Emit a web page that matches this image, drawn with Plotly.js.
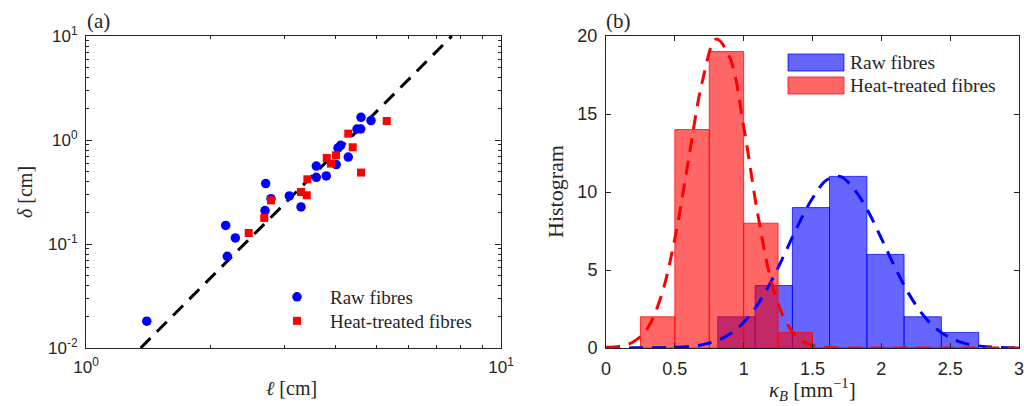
<!DOCTYPE html>
<html>
<head>
<meta charset="utf-8">
<script src="https://cdn.plot.ly/plotly-3.0.1.min.js"></script>
<style>html,body{margin:0;padding:0;background:#fff;}#chart{width:1024px;height:406px;}</style>
</head>
<body>
<div id="chart"></div>
<script>
// ---------- Panel (a) data: fibre length l [cm] vs delta [cm] ----------
const rawL     = [1.401, 2.171, 2.290, 2.190, 2.710, 2.700, 2.791, 3.090, 3.297, 3.589, 3.589, 3.793, 4.009, 4.048, 4.109, 4.285, 4.498, 4.592, 4.599, 4.862];
const rawDelta = [0.0181, 0.151, 0.1143, 0.0762, 0.381, 0.2094, 0.273, 0.2896, 0.227, 0.562, 0.438, 0.451, 0.58, 0.838, 0.889, 0.686, 1.276, 1.276, 1.653, 1.536];
const heatL     = [2.466, 2.689, 2.791, 3.297, 3.403, 3.415, 3.802, 3.894, 4.003, 4.285, 4.392, 4.599, 5.304];
const heatDelta = [0.1276, 0.178, 0.263, 0.316, 0.294, 0.419, 0.671, 0.593, 0.713, 1.152, 0.851, 0.486, 1.524];
const fitL     = [1.354, 7.615];
const fitDelta = [0.01, 10];

// ---------- Panel (b) data: histogram of kappa_B [mm^-1] ----------
const heatBinEdges = [0.25, 0.5, 0.75, 1.0, 1.25, 1.5];
const heatCounts   = [2, 14, 19, 8, 1];
const rawBinEdges  = [0.812, 1.083, 1.354, 1.624, 1.895, 2.165, 2.436, 2.707];
const rawCounts    = [2, 4, 9, 11, 6, 2, 1];
const curveK    = [0, 0.1, 0.2, 0.3, 0.4, 0.5, 0.6, 0.7, 0.8, 0.9, 1.0, 1.1, 1.2, 1.3, 1.4, 1.5, 1.6, 1.7, 1.8, 1.9, 2.0, 2.1, 2.2, 2.3, 2.4, 2.5, 2.6, 2.7, 2.8, 2.9, 3.0];
const heatCurve = [0.05, 0.12, 0.4, 1.25, 3.3, 7.0, 12.1, 17.1, 19.8, 18.6, 14.2, 8.7, 4.3, 1.8, 0.6, 0.17, 0.04, 0.01, 0, 0, 0, 0, 0, 0, 0, 0, 0, 0, 0, 0, 0];
const rawCurve  = [0, 0, 0.01, 0.01, 0.02, 0.04, 0.09, 0.21, 0.45, 0.9, 1.64, 2.76, 4.27, 6.08, 7.96, 9.6, 10.75, 11.0, 10.2, 8.83, 7.03, 5.15, 3.47, 2.15, 1.23, 0.65, 0.31, 0.14, 0.06, 0.02, 0.01];

// ---------- tick labels ----------
const logXTickVals = [1, 10];
const logXTickText = ['10<sup>0</sup>', '10<sup>1</sup>'];
const logYTickVals = [0.01, 0.1, 1, 10];
const logYTickText = ['10<sup>-2</sup>', '10<sup>-1</sup>', '10<sup>0</sup>', '10<sup>1</sup>'];
const minorXVals = [2, 3, 4, 5, 6, 7, 8, 9];
const minorYVals = [0.02,0.03,0.04,0.05,0.06,0.07,0.08,0.09,0.2,0.3,0.4,0.5,0.6,0.7,0.8,0.9,2,3,4,5,6,7,8,9];
const histXTicks = [0, 0.5, 1, 1.5, 2, 2.5, 3];
const histXText  = ['0', '0.5', '1', '1.5', '2', '2.5', '3'];
const histYTicks = [0, 5, 10, 15, 20];

function centres(edges){ const c=[]; for(let i=0;i<edges.length-1;i++) c.push((edges[i]+edges[i+1])/2); return c; }
function widths(edges){ const w=[]; for(let i=0;i<edges.length-1;i++) w.push(edges[i+1]-edges[i]); return w; }

const W = 1024, H = 406;
const px = v => v / W, py = v => 1 - v / H;

const SERIF = 'Liberation Serif, Times New Roman, serif';
const SANS = 'Liberation Sans, Arial, sans-serif';
const AX = '#262626';
const DASH = '14px,9px';

const traces = [
  {x: fitL, y: fitDelta, type: 'scatter', mode: 'lines', xaxis: 'x', yaxis: 'y',
   line: {color: '#000', width: 3, dash: DASH}, showlegend: false, hoverinfo: 'skip'},
  {x: rawL, y: rawDelta, type: 'scatter', mode: 'markers', name: 'Raw fibres', xaxis: 'x', yaxis: 'y',
   legend: 'legend', marker: {color: '#0000ff', size: 9.5, symbol: 'circle'}},
  {x: heatL, y: heatDelta, type: 'scatter', mode: 'markers', name: 'Heat-treated fibres', xaxis: 'x', yaxis: 'y',
   legend: 'legend2', marker: {color: '#ff0000', size: 8, symbol: 'square'}},
  {x: centres(rawBinEdges), y: rawCounts, width: widths(rawBinEdges), type: 'bar', xaxis: 'x2', yaxis: 'y2',
   marker: {color: 'rgba(0,0,255,0.6)', line: {color: 'rgba(0,0,255,0.75)', width: 1}}, showlegend: false},
  {x: centres(heatBinEdges), y: heatCounts, width: widths(heatBinEdges), type: 'bar', xaxis: 'x2', yaxis: 'y2',
   marker: {color: 'rgba(255,0,0,0.6)', line: {color: 'rgba(255,0,0,0.75)', width: 1}}, showlegend: false},
  {x: curveK, y: rawCurve, type: 'scatter', mode: 'lines', xaxis: 'x2', yaxis: 'y2',
   line: {color: '#0000ff', width: 3, dash: DASH, shape: 'spline'}, showlegend: false},
  {x: curveK, y: heatCurve, type: 'scatter', mode: 'lines', xaxis: 'x2', yaxis: 'y2',
   line: {color: '#ff0000', width: 3, dash: DASH, shape: 'spline'}, showlegend: false}
];

const axCommon = {linecolor: AX, linewidth: 1, mirror: 'ticks', ticks: 'inside', tickcolor: AX,
  showgrid: false, zeroline: false, ticklabelstandoff: 4, ticklabeloverflow: 'allow'};

const legendCommon = {xanchor: 'left', yanchor: 'middle', bgcolor: 'rgba(0,0,0,0)',
  font: {family: SERIF, size: 19, color: AX}, itemwidth: 56, tracegroupgap: 0};

const layout = {
  width: W, height: H,
  margin: {l: 0, r: 0, t: 0, b: 0},
  paper_bgcolor: '#fff', plot_bgcolor: '#fff',
  barmode: 'overlay', bargap: 0,
  showlegend: true,
  legend: Object.assign({}, legendCommon, {x: px(264), y: py(297)}),
  legend2: Object.assign({}, legendCommon, {x: px(264), y: py(321)}),
  xaxis: Object.assign({}, axCommon, {type: 'log', domain: [px(86), px(501)], range: [0, 1],
    tickmode: 'array', tickvals: logXTickVals, ticktext: logXTickText, ticklen: 6,
    tickfont: {family: SANS, size: 17, color: AX},
    minor: {tickmode: 'array', tickvals: minorXVals, ticks: 'inside', ticklen: 3, tickcolor: AX},
    anchor: 'y'}),
  yaxis: Object.assign({}, axCommon, {type: 'log', domain: [py(348), py(36)], range: [-2, 1],
    tickmode: 'array', tickvals: logYTickVals, ticktext: logYTickText, ticklen: 6,
    tickfont: {family: SANS, size: 17, color: AX},
    minor: {tickmode: 'array', tickvals: minorYVals, ticks: 'inside', ticklen: 3, tickcolor: AX},
    anchor: 'x'}),
  xaxis2: Object.assign({}, axCommon, {domain: [px(606), px(1019)], range: [0, 3],
    tickmode: 'array', tickvals: histXTicks, ticktext: histXText, ticklen: 5,
    tickfont: {family: SANS, size: 18, color: AX},
    anchor: 'y2'}),
  yaxis2: Object.assign({}, axCommon, {domain: [py(348), py(36)], range: [0, 20],
    tickmode: 'array', tickvals: histYTicks, ticklen: 5,
    tickfont: {family: SANS, size: 18, color: AX},
    anchor: 'x2'}),
  shapes: [
    {type: 'rect', xref: 'paper', yref: 'paper', x0: px(788), x1: px(844), y0: py(71), y1: py(54),
     fillcolor: 'rgba(0,0,255,0.6)', line: {color: 'rgba(0,0,255,0.75)', width: 1}},
    {type: 'rect', xref: 'paper', yref: 'paper', x0: px(788), x1: px(844), y0: py(94), y1: py(77),
     fillcolor: 'rgba(255,0,0,0.6)', line: {color: 'rgba(255,0,0,0.75)', width: 1}}
  ],
  annotations: [
    {text: '(a)', xref: 'paper', yref: 'paper', x: px(85), y: py(21), xanchor: 'left', yanchor: 'middle',
     showarrow: false, font: {family: SERIF, size: 21, color: AX}},
    {text: '(b)', xref: 'paper', yref: 'paper', x: px(604), y: py(21), xanchor: 'left', yanchor: 'middle',
     showarrow: false, font: {family: SERIF, size: 21, color: AX}},
    {text: '<i>ℓ</i> [cm]', xref: 'paper', yref: 'paper', x: px(291), y: py(388), xanchor: 'center', yanchor: 'middle',
     showarrow: false, font: {family: SERIF, size: 20, color: AX}},
    {text: '<i>δ</i> [cm]', xref: 'paper', yref: 'paper', x: px(25), y: py(192), xanchor: 'center', yanchor: 'middle',
     textangle: -90, showarrow: false, font: {family: SERIF, size: 20, color: AX}},
    {text: '<i>κ</i><sub><i>B</i></sub> [mm<sup>−1</sup>]', xref: 'paper', yref: 'paper', x: px(812), y: py(389), xanchor: 'center', yanchor: 'middle',
     showarrow: false, font: {family: SERIF, size: 21, color: AX}},
    {text: 'Histogram', xref: 'paper', yref: 'paper', x: px(555), y: py(192), xanchor: 'center', yanchor: 'middle',
     textangle: -90, showarrow: false, font: {family: SERIF, size: 22, color: AX}},
    {text: 'Raw fibres', xref: 'paper', yref: 'paper', x: px(848), y: py(62.5), xanchor: 'left', yanchor: 'middle',
     showarrow: false, font: {family: SERIF, size: 19.5, color: AX}},
    {text: 'Heat-treated fibres', xref: 'paper', yref: 'paper', x: px(848), y: py(85.5), xanchor: 'left', yanchor: 'middle',
     showarrow: false, font: {family: SERIF, size: 19.5, color: AX}}
  ]
};

Plotly.newPlot('chart', traces, layout, {staticPlot: true, displayModeBar: false});
</script>
</body>
</html>
